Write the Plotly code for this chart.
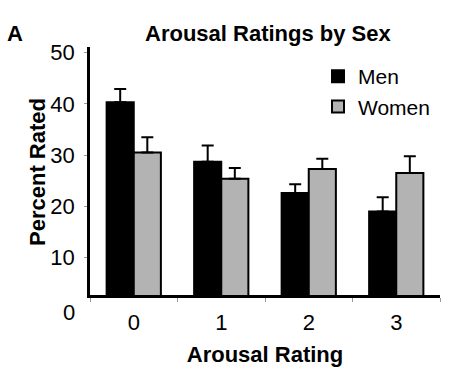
import plotly.graph_objects as go

categories = ["0", "1", "2", "3"]
men = [40.3, 28.7, 22.6, 19.0]
men_err = [2.6, 3.2, 1.7, 2.8]
women = [30.5, 25.4, 27.3, 26.5]
women_err = [3.0, 2.1, 2.0, 3.3]
y_ticks = [10, 20, 30, 40, 50]

FONT = "Arial, Liberation Sans, sans-serif"
L, R, T, B = 90, 15, 47, 86
PW, PH = 455 - L - R, 381 - T - B

fig = go.Figure()
fig.add_trace(go.Bar(
    x=categories, y=men, name="Men",
    marker=dict(color="#000000", line=dict(color="#000000", width=2)),
    error_y=dict(type="data", array=men_err, arrayminus=[0]*4, symmetric=False,
                 color="#000000", thickness=2, width=6),
))
fig.add_trace(go.Bar(
    x=categories, y=women, name="Women",
    marker=dict(color="#b3b3b3", line=dict(color="#000000", width=2)),
    error_y=dict(type="data", array=women_err, arrayminus=[0]*4, symmetric=False,
                 color="#000000", thickness=2, width=6),
))

fig.update_layout(
    width=455, height=381,
    margin=dict(l=L, r=R, t=T, b=B),
    paper_bgcolor="white", plot_bgcolor="white",
    barmode="group", bargap=0.38, bargroupgap=0,
    font=dict(family=FONT, color="#000000", size=22),
    legend=dict(x=(318 - L) / PW, y=(381 - B - 56) / PH, xanchor="left", yanchor="top",
                bgcolor="rgba(0,0,0,0)", font=dict(size=21), tracegroupgap=0),
    showlegend=True,
    xaxis=dict(
        type="category", showline=True, linecolor="#000000", linewidth=2.5,
        ticks="outside", tickson="boundaries", ticklen=4, tickcolor="#999999", tickwidth=1,
        tickfont=dict(size=22), ticklabelstandoff=6, automargin=False,
        title=dict(text="<b>Arousal Rating</b>", font=dict(size=22), standoff=13),
        showgrid=False, zeroline=False,
    ),
    yaxis=dict(
        range=[2.7, 51.1], tickvals=y_ticks, showline=True, linecolor="#000000", linewidth=2.5,
        ticks="outside", ticklen=3, tickcolor="#999999", tickwidth=1,
        tickfont=dict(size=22), ticklabelstandoff=5, automargin=False,
        showgrid=False, zeroline=False,
    ),
    annotations=[
        dict(text="<b>Arousal Ratings by Sex</b>", xref="paper", yref="paper", x=(268 - L) / PW,
             y=(381 - B - 33) / PH, xanchor="center", yanchor="middle", showarrow=False,
             font=dict(size=22)),
        dict(text="<b>A</b>", xref="paper", yref="paper", x=(5 - L) / PW, y=(381 - B - 33) / PH,
             xanchor="left", yanchor="middle", showarrow=False, font=dict(size=22)),
        dict(text="0", xref="paper", yref="paper", x=(77 - L) / PW, y=-17 / PH,
             xanchor="right", yanchor="middle", showarrow=False, font=dict(size=22)),
        dict(text="<b>Percent Rated</b>", xref="paper", yref="paper", x=(37 - L) / PW,
             y=(381 - B - 172) / PH, xanchor="center", yanchor="middle", textangle=-90,
             showarrow=False, font=dict(size=22)),
    ],
)

fig.write_html("out.html", config={"displayModeBar": False},
               post_script="document.body.style.margin='0';")
